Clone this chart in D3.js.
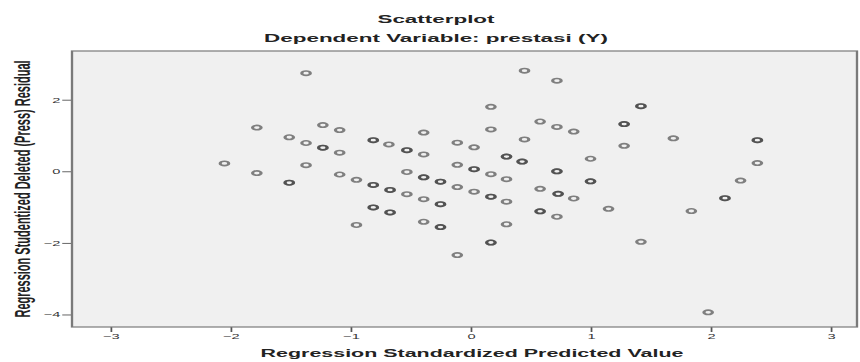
<!DOCTYPE html>
<html lang="id">
<head>
    <meta charset="utf-8">
    <title>Scatterplot</title>
    <script src="https://d3js.org/d3.v7.min.js"></script>
    <style>
        body { margin: 0; background: white; }
        text { font-family: "Liberation Sans", Arial, sans-serif; }
    </style>
</head>
<body>
<div id="chart"></div>
</body>
<script>

/* ------------------------------------------------------------
 *  Data
 * ------------------------------------------------------------ */
// Regression standardized predicted value
var predicted = [-2.05,-1.78,-1.78,-1.51,-1.51,-1.37,-1.37,-1.37,-1.23,-1.23,
                 -1.09,-1.09,-1.09,-0.95,-0.95,-0.81,-0.68,-0.53,-0.39,-0.39,
                 -0.81,-0.67,-0.53,-0.53,-0.39,-0.25,-0.39,-0.25,-0.81,-0.67,
                 -0.39,-0.25,-0.11,-0.11,0.03,0.17,0.17,-0.11,0.03,0.17,
                 0.30,0.43,0.30,-0.11,0.03,0.17,0.30,0.30,0.17,0.45,
                 0.58,0.72,0.86,0.45,0.72,0.72,0.58,0.73,0.86,0.58,
                 0.72,1.42,1.28,1.69,1.28,1.00,1.00,1.15,1.42,2.39,
                 2.39,2.25,2.12,1.84,1.98];
// Regression studentized deleted (press) residual
var residual = [0.22,1.22,-0.05,0.95,-0.32,2.74,0.79,0.17,1.29,0.66,
                1.15,0.52,-0.09,-0.24,-1.50,0.87,0.75,0.59,0.47,1.08,
                -0.38,-0.52,-0.64,-0.02,-0.17,-0.29,-0.78,-0.92,-1.01,-1.15,
                -1.41,-1.56,-2.34,0.80,0.67,1.80,1.17,0.18,0.06,-0.08,
                0.41,0.27,-0.22,-0.44,-0.57,-0.71,-0.85,-1.48,-1.99,2.81,
                1.39,1.24,1.11,0.89,2.53,0.00,-0.49,-0.63,-0.76,-1.12,
                -1.27,1.82,1.32,0.92,0.71,0.35,-0.28,-1.05,-1.97,0.87,
                0.23,-0.26,-0.75,-1.11,-3.94];
// Number of cases drawn on top of each other at that spot (darker rings)
var cases = [1,1,1,1,2,1,1,1,1,2,
             1,1,1,1,1,2,1,2,1,1,
             2,2,1,1,2,2,1,2,2,2,
             1,2,1,1,1,1,1,1,2,1,
             2,2,1,1,1,2,1,1,2,1,
             1,1,1,1,1,2,1,2,1,2,
             1,2,2,1,1,1,2,1,1,2,
             1,1,2,1,1];

var xTicks = [-3,-2,-1,0,1,2,3];
var yTicks = [-4,-2,0,2];

var title = "Scatterplot";
var subtitle = "Dependent Variable: prestasi (Y)";
var xTitle = "Regression Standardized Predicted Value";
var yTitle = "Regression Studentized Deleted (Press) Residual";

/* ------------------------------------------------------------
 *  Layout
 * ------------------------------------------------------------ */
// The source picture is stretched sideways, so draw narrow and stretch
var sx = 1.95;
var width = 860, height = 362;
var vw = width / sx;
var box = {left: 72 / sx, right: 857 / sx, top: 51, bottom: 327};

var x = d3.scaleLinear().domain([-3.32, 3.22]).range([box.left, box.right]);
var y = d3.scaleLinear().domain([-4.35, 3.36]).range([box.bottom, box.top]);

var svg = d3.select("#chart")
    .append("svg")
    .attr("width", width)
    .attr("height", height)
    .attr("viewBox", [0, 0, vw, height])
    .attr("preserveAspectRatio", "none")
    .style("display", "block");

// Plot background
svg.append("rect")
    .attr("x", box.left)
    .attr("y", box.top)
    .attr("width", box.right - box.left)
    .attr("height", box.bottom - box.top)
    .attr("fill", "#f0f0f0");

// Axes
var xAxis = svg.append("g")
    .attr("transform", `translate(0,${box.bottom})`)
    .call(d3.axisBottom(x).tickValues(xTicks).tickSize(5).tickPadding(1.5).tickFormat(d3.format("d")));
var yAxis = svg.append("g")
    .attr("transform", `translate(${box.left},0)`)
    .call(d3.axisLeft(y).tickValues(yTicks).tickSize(5).tickPadding(1).tickFormat(d3.format("d")));

[xAxis, yAxis].forEach(a => {
    a.select(".domain").remove();
    a.selectAll(".tick line").attr("stroke", "#555").attr("stroke-width", 0.9);
    a.selectAll(".tick text")
        .attr("fill", "#333")
        .style("font-size", "7.5px")
        .style("font-family", "'Liberation Sans', Arial, sans-serif");
});

// Points, one ring per case; overlapping cases look darker
var rows = [];
predicted.forEach((p, i) => {
    for (var k = 0; k < cases[i]; k++) rows.push({p: p, r: residual[i]});
});

svg.append("g")
    .selectAll("circle")
    .data(rows)
    .enter()
    .append("circle")
    .attr("cx", d => x(d.p))
    .attr("cy", d => y(d.r))
    .attr("r", 2.2)
    .attr("fill", "none")
    .attr("stroke", "#333")
    .attr("stroke-opacity", 0.6)
    .attr("stroke-width", 1.6);

// Frame
svg.append("rect")
    .attr("x", box.left)
    .attr("y", box.top)
    .attr("width", box.right - box.left)
    .attr("height", box.bottom - box.top)
    .attr("fill", "none")
    .attr("stroke", "#7a7a7a")
    .attr("stroke-width", 1.2);

// Titles
svg.append("text")
    .attr("x", 436 / sx)
    .attr("y", 23)
    .attr("text-anchor", "middle")
    .style("font-size", "11.5px")
    .style("font-weight", "bold")
    .attr("fill", "#222")
    .text(title);

svg.append("text")
    .attr("x", 436 / sx)
    .attr("y", 42)
    .attr("text-anchor", "middle")
    .style("font-size", "11.5px")
    .style("font-weight", "bold")
    .attr("fill", "#222")
    .text(subtitle);

svg.append("text")
    .attr("x", 472 / sx)
    .attr("y", 357)
    .attr("text-anchor", "middle")
    .style("font-size", "11px")
    .style("font-weight", "bold")
    .attr("fill", "#222")
    .text(xTitle);

svg.append("text")
    .attr("transform", `translate(${22 / sx},189) rotate(-90)`)
    .attr("dy", "0.35em")
    .attr("text-anchor", "middle")
    .style("font-size", "11px")
    .style("font-weight", "bold")
    .attr("fill", "#222")
    .text(yTitle);

</script>
</html>
